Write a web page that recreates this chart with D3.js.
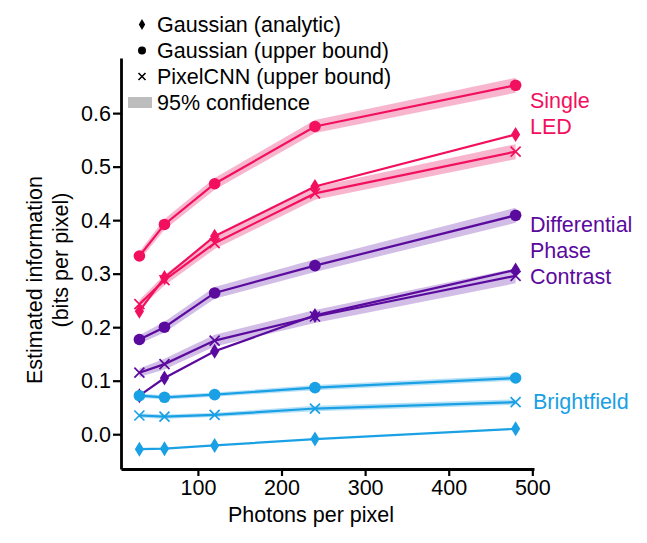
<!DOCTYPE html>
<html><head><meta charset="utf-8">
<script src="https://cdn.jsdelivr.net/npm/d3@7"></script>
<style>body{margin:0;background:#fff}svg{font-family:"Liberation Sans",Arial,sans-serif}</style>
</head><body><svg id="c" width="647" height="543"></svg>
<script>
const photons = [30, 60, 120, 240, 480];
const xTicks = [100, 200, 300, 400, 500];
const yTicks = [0.0, 0.1, 0.2, 0.3, 0.4, 0.5, 0.6];

const ledGaussUpper = [0.333, 0.392, 0.468, 0.575, 0.652];
const ledGaussAnalytic = [0.230, 0.293, 0.370, 0.463, 0.560];
const ledPixelCNN = [0.243, 0.288, 0.357, 0.450, 0.528];
const dpcGaussUpper = [0.177, 0.200, 0.264, 0.315, 0.409];
const dpcGaussAnalytic = [0.072, 0.105, 0.155, 0.222, 0.307];
const dpcPixelCNN = [0.115, 0.131, 0.175, 0.220, 0.296];
const bfGaussUpper = [0.072, 0.069, 0.074, 0.087, 0.105];
const bfPixelCNN = [0.035, 0.033, 0.036, 0.048, 0.060];
const bfGaussAnalytic = [-0.028, -0.027, -0.021, -0.009, 0.010];

const ciLarge = [0.008, 0.010, 0.011, 0.012, 0.014];
const ciSmall = [0.004, 0.004, 0.004, 0.005, 0.005];

const colors = {led: "#f2105e", dpc: "#5b0a9e", bf: "#1aa0e4"};
const bandColors = {led: "#f7a9c6", dpc: "#c9b1e2", bf: "#a9daf4"};

const series = [
  {g: "led", type: "circle", v: ledGaussUpper, ci: ciLarge},
  {g: "led", type: "diamond", v: ledGaussAnalytic, ci: null},
  {g: "led", type: "x", v: ledPixelCNN, ci: ciLarge},
  {g: "dpc", type: "circle", v: dpcGaussUpper, ci: ciLarge},
  {g: "dpc", type: "diamond", v: dpcGaussAnalytic, ci: null},
  {g: "dpc", type: "x", v: dpcPixelCNN, ci: ciLarge},
  {g: "bf", type: "circle", v: bfGaussUpper, ci: ciSmall},
  {g: "bf", type: "x", v: bfPixelCNN, ci: ciSmall},
  {g: "bf", type: "diamond", v: bfGaussAnalytic, ci: null}
];

const groupLabels = [
  {g: "led", lines: ["Single", "LED"], x: 530, base: 108},
  {g: "dpc", lines: ["Differential", "Phase", "Contrast"], x: 530, base: 232},
  {g: "bf", lines: ["Brightfield"], x: 533, base: 409}
];

const FS = 21.5;
const svg = d3.select("#c");
const x = d3.scaleLinear().domain([8, 502]).range([121, 534]);
const y = d3.scaleLinear().domain([-0.065, 0.703]).range([469, 58]);

// bands
const area = d3.area().x(d => x(d[0])).y0(d => y(d[1] - d[2])).y1(d => y(d[1] + d[2]));
series.filter(s => s.ci).forEach(s => {
  svg.append("path").datum(photons.map((p, i) => [p, s.v[i], s.ci[i]]))
    .attr("d", area).attr("fill", bandColors[s.g]).attr("opacity", 0.85);
});

const line = d3.line().x(d => x(d[0])).y(d => y(d[1]));
function marker(sel, type, color) {
  if (type === "circle") {
    sel.append("circle").attr("r", 5.8).attr("fill", color);
  } else if (type === "diamond") {
    sel.append("path").attr("d", "M0,-7.5L4.6,0L0,7.5L-4.6,0Z").attr("fill", color);
  } else {
    sel.append("path").attr("d", "M-5,-5L5,5M-5,5L5,-5").attr("stroke", color).attr("stroke-width", 1.7).attr("fill", "none");
  }
}
series.forEach(s => {
  const pts = photons.map((p, i) => [p, s.v[i]]);
  svg.append("path").datum(pts).attr("d", line).attr("fill", "none")
    .attr("stroke", colors[s.g]).attr("stroke-width", 2.2);
  pts.forEach(d => {
    const g = svg.append("g").attr("transform", `translate(${x(d[0])},${y(d[1])})`);
    marker(g, s.type, colors[s.g]);
  });
});

// axes
const xAxis = d3.axisBottom(x).tickValues(xTicks).tickFormat(d3.format("d")).tickSize(7).tickPadding(4).tickSizeOuter(0);
const yAxis = d3.axisLeft(y).tickValues(yTicks).tickFormat(d3.format(".1f")).tickSize(8).tickPadding(2).tickSizeOuter(0);
const gx = svg.append("g").attr("transform", "translate(0,469)").call(xAxis);
const gy = svg.append("g").attr("transform", "translate(121,0)").call(yAxis);
[gx, gy].forEach(g => {
  g.select(".domain").attr("stroke", "#000").attr("stroke-width", 2.8);
  g.selectAll(".tick line").attr("stroke", "#000").attr("stroke-width", 2.2);
  g.selectAll("text").attr("font-size", FS).attr("fill", "#000").attr("font-family", "Liberation Sans, Arial, sans-serif");
});

svg.append("text").attr("x", 311).attr("y", 522).attr("text-anchor", "middle")
  .attr("font-size", FS).text("Photons per pixel");
svg.append("text").attr("transform", "translate(42,280) rotate(-90)").attr("text-anchor", "middle").attr("font-size", FS).text("Estimated information");
svg.append("text").attr("transform", "translate(68,260) rotate(-90)").attr("text-anchor", "middle").attr("font-size", FS).text("(bits per pixel)");

// group labels
groupLabels.forEach(L => {
  L.lines.forEach((t, i) => {
    svg.append("text").attr("x", L.x).attr("y", L.base + i * 26).attr("font-size", FS)
      .attr("fill", colors[L.g]).text(t);
  });
});

// legend
const legendItems = [
  {type: "diamond", label: "Gaussian (analytic)"},
  {type: "circle", label: "Gaussian (upper bound)"},
  {type: "x", label: "PixelCNN (upper bound)"},
  {type: "band", label: "95% confidence"}
];
legendItems.forEach((it, i) => {
  const base = 32 + i * 26;
  const cy = base - 7.5;
  const g = svg.append("g").attr("transform", `translate(142,${cy})`);
  if (it.type === "diamond") g.append("path").attr("d", "M0,-5.5L3.2,0L0,5.5L-3.2,0Z").attr("fill", "#000");
  else if (it.type === "circle") g.append("circle").attr("r", 4).attr("fill", "#000");
  else if (it.type === "x") g.append("path").attr("d", "M-3.5,-3.5L3.5,3.5M-3.5,3.5L3.5,-3.5").attr("stroke", "#000").attr("stroke-width", 1.6);
  else g.append("rect").attr("x", -14).attr("y", -5.5).attr("width", 24).attr("height", 11).attr("fill", "#bdbdbd");
  svg.append("text").attr("x", 157).attr("y", base).attr("font-size", FS).text(it.label);
});
</script></body></html>
